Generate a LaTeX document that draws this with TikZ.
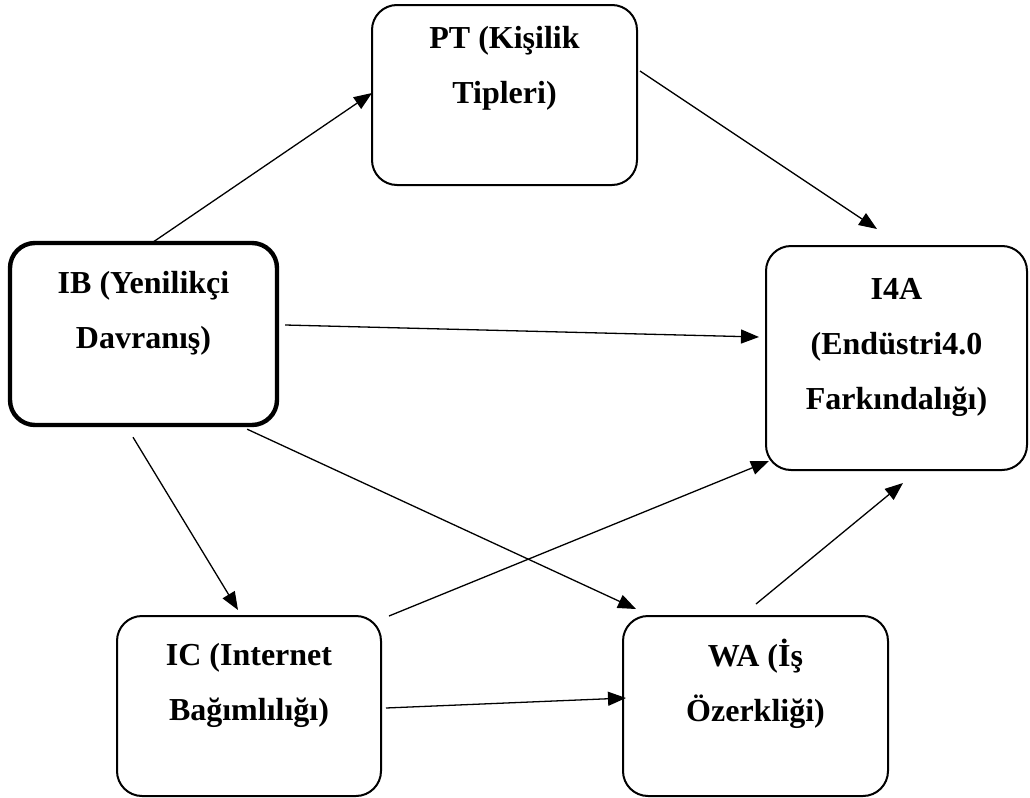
\documentclass[tikz,border=0pt]{standalone}
\usepackage{fontspec}
\setmainfont{Liberation Serif}
\usetikzlibrary{calc,arrows.meta}
% empty last line of a box, pulled up by #1
\newcommand{\boxend}[1]{\\[-#1]\strut}

\begin{document}
\begin{tikzpicture}[x=0.5pt,y=-0.5pt,
  box/.style={draw,line width=1pt,rounded corners=12.5pt,align=center,
    font=\bfseries\fontsize{16}{27.5}\selectfont,inner sep=0pt,
    minimum width=132.5pt,minimum height=90pt},
  arr/.style={-{Triangle[length=9pt,width=7pt]},line width=0.65pt}]
\useasboundingbox (0,0) rectangle (1030,798);

% Boxes (coordinates in pixels, y downwards)
\node[box] (pt) at (504.5,95) {PT (Kişilik\\Tipleri)\boxend{6pt}};
\node[box,line width=2.2pt,minimum width=133.5pt,minimum height=91pt] (ib) at (143.5,334)
  {IB (Yenilikçi\\Davranış)\boxend{12pt}};
\node[box,minimum width=130.5pt,minimum height=112pt] (ia) at (896.5,358)
  {I4A\\(Endüstri4.0\\Farkındalığı)\boxend{22pt}};
\node[box,minimum width=132pt] (ic) at (249,706) {IC (Internet\\Bağımlılığı)\boxend{12pt}};
\node[box] (wa) at (755.5,706) {WA (İş\\Özerkliği)\boxend{10pt}};

% Arrows
\draw[arr] ($(ib.north)+(8.5,2)$) -- ($(pt.west)+(1,-2)$);
\draw[arr] ($(pt.east)+(2,-24)$) -- ($(ia.north)+(-19.5,-16)$);
\draw[arr] ($(ib.east)+(6,-9)$) -- ($(ia.west)+(-6,-21)$);
\draw[arr] ($(ib.south)+(-10.5,10)$) -- ($(ic.north)+(-11,-5)$);
\draw[arr] ($(ib.south east)+(-32,2)$) -- ($(wa.north west)+(14,-6)$);
\draw[arr] ($(ic.north east)+(7,1)$) -- ($(ia.south west)+(4,-10)$);
\draw[arr] ($(wa.north)+(0.5,-11)$) -- ($(ia.south)+(6.5,12)$);
\draw[arr] ($(ic.east)+(4,2)$) -- ($(wa.west)+(4,-8)$);

\end{tikzpicture}
\end{document}
